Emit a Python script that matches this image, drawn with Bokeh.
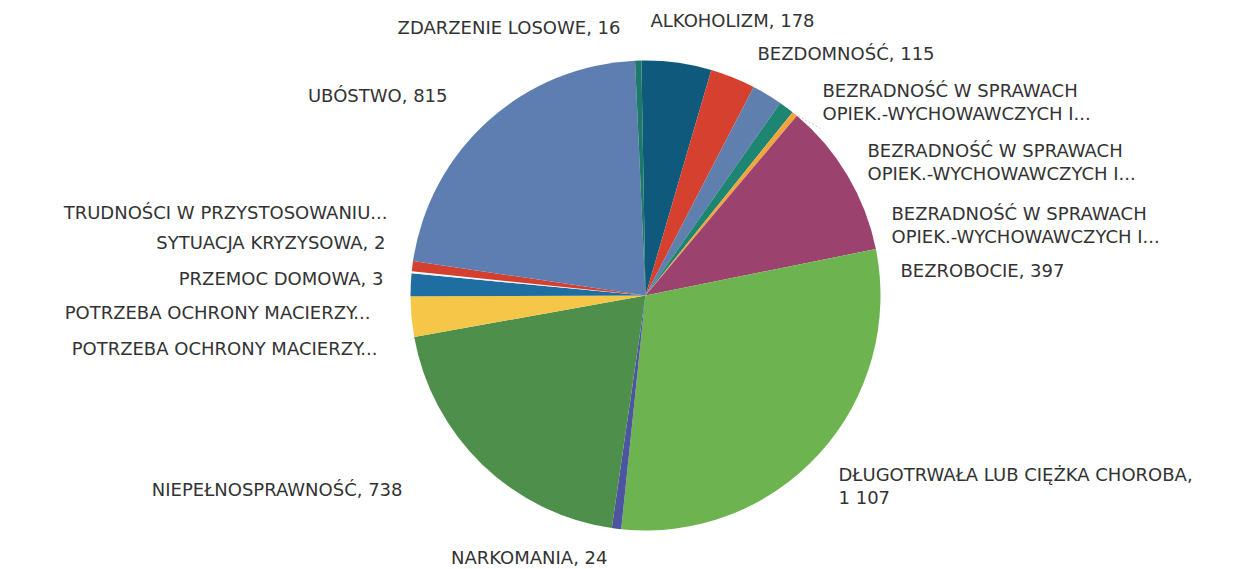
import numpy as np
from bokeh.plotting import figure
from bokeh.models import ColumnDataSource, Range1d
from bokeh.embed import file_html
from bokeh.resources import INLINE
from bokeh.core.properties import value

# ---------------- data ----------------
categories = [
    "ALKOHOLIZM", "BEZDOMNOŚĆ",
    "BEZRADNOŚĆ W SPRAWACH OPIEK.-WYCHOWAWCZYCH I... (1)",
    "BEZRADNOŚĆ W SPRAWACH OPIEK.-WYCHOWAWCZYCH I... (2)",
    "BEZRADNOŚĆ W SPRAWACH OPIEK.-WYCHOWAWCZYCH I... (3)",
    "BEZROBOCIE", "DŁUGOTRWAŁA LUB CIĘŻKA CHOROBA", "NARKOMANIA",
    "NIEPEŁNOSPRAWNOŚĆ", "POTRZEBA OCHRONY MACIERZY... (1)",
    "POTRZEBA OCHRONY MACIERZY... (2)", "PRZEMOC DOMOWA",
    "SYTUACJA KRYZYSOWA", "TRUDNOŚCI W PRZYSTOSOWANIU...",
    "UBÓSTWO", "ZDARZENIE LOSOWE",
]
values = [178, 115, 78, 39, 14, 397, 1107, 24, 738, 103, 58, 3, 2, 26, 815, 16]
colors = [
    "#0f5a7c", "#d6412f", "#5f7fae", "#1f8573", "#f3a43a", "#9c426f",
    "#6db34f", "#4e55a0", "#4f8f4c", "#f6c648", "#1e6ea1", "#eef1f6",
    "#ffffff", "#d4402f", "#5e7db0", "#1d7a6a",
]
labels = [
    "ALKOHOLIZM, 178",
    "BEZDOMNOŚĆ, 115",
    "BEZRADNOŚĆ W SPRAWACH\nOPIEK.-WYCHOWAWCZYCH I...",
    "BEZRADNOŚĆ W SPRAWACH\nOPIEK.-WYCHOWAWCZYCH I...",
    "BEZRADNOŚĆ W SPRAWACH\nOPIEK.-WYCHOWAWCZYCH I...",
    "BEZROBOCIE, 397",
    "DŁUGOTRWAŁA LUB CIĘŻKA CHOROBA,\n1 107",
    "NARKOMANIA, 24",
    "NIEPEŁNOSPRAWNOŚĆ, 738",
    "POTRZEBA OCHRONY MACIERZY...",
    "POTRZEBA OCHRONY MACIERZY...",
    "PRZEMOC DOMOWA, 3",
    "SYTUACJA KRYZYSOWA, 2",
    "TRUDNOŚCI W PRZYSTOSOWANIU...",
    "UBÓSTWO, 815",
    "ZDARZENIE LOSOWE, 16",
]

# ---------------- layout (page pixel coordinates) ----------------
CX, CY, R = 645, 295, 235
ROTATION_DEG = -1.0
label_x = [650, 757, 822, 867, 891, 900, 838, 607, 402, 377, 370, 383, 385, 387, 447, 620]
label_y = [20, 53, 90, 150, 213, 270, 474, 557, 489, 348, 312, 278, 242, 212, 95, 27]
label_align = ["left", "left", "left", "left", "left", "left", "left", "right",
               "right", "right", "right", "right", "right", "right", "right", "right"]
LINE_H = 23
FONT = "DejaVu Sans"
FONT_SIZE = "18px"
TEXT_COLOR = "#333333"

# ---------------- geometry from data ----------------
vals = np.array(values, dtype=float)
frac = vals / vals.sum()
cum = np.concatenate([[0.0], np.cumsum(frac)])
theta0 = np.deg2rad(ROTATION_DEG) + cum[:-1] * 2 * np.pi   # clockwise from top
theta1 = np.deg2rad(ROTATION_DEG) + cum[1:] * 2 * np.pi

wedges = ColumnDataSource(dict(
    x=[CX] * len(values), y=[-CY] * len(values),
    start=list(np.pi / 2 - theta0), end=list(np.pi / 2 - theta1),
    color=colors, cat=categories, val=values,
))

W, H = 1253, 569
p = figure(width=W, height=H, x_range=Range1d(0, W), y_range=Range1d(-H, 0),
           output_backend="svg", toolbar_location=None,
           x_axis_location=None, y_axis_location=None, min_border=0)
p.outline_line_color = None
p.grid.visible = False
p.background_fill_color = "white"

p.wedge(x="x", y="y", radius=R, start_angle="start", end_angle="end",
        direction="clock", fill_color="color", line_color=None, source=wedges)

# faint leader line for the small orange slice
i_or = 4
tm = (theta0[i_or] + theta1[i_or]) / 2
p.line(x=[CX + R * np.sin(tm), label_x[2] - 2], y=[-(CY - R * np.cos(tm)), -(label_y[2] + 38)],
       line_color="#c8c8c8", line_width=1, line_dash="2 2")

# labels
for align in ["left", "right"]:
    xs, ys, ts = [], [], []
    for lx, ly, la, txt in zip(label_x, label_y, label_align, labels):
        if la != align:
            continue
        for k, line in enumerate(txt.split("\n")):
            xs.append(lx)
            ys.append(-(ly + k * LINE_H))
            ts.append(line)
    src = ColumnDataSource(dict(x=xs, y=ys, text=ts))
    p.text(x="x", y="y", text="text", source=src, text_align=align,
           text_baseline="middle", text_font=value(FONT), text_font_size=FONT_SIZE,
           text_color=TEXT_COLOR)

open("out.html", "w").write(file_html(p, INLINE))
